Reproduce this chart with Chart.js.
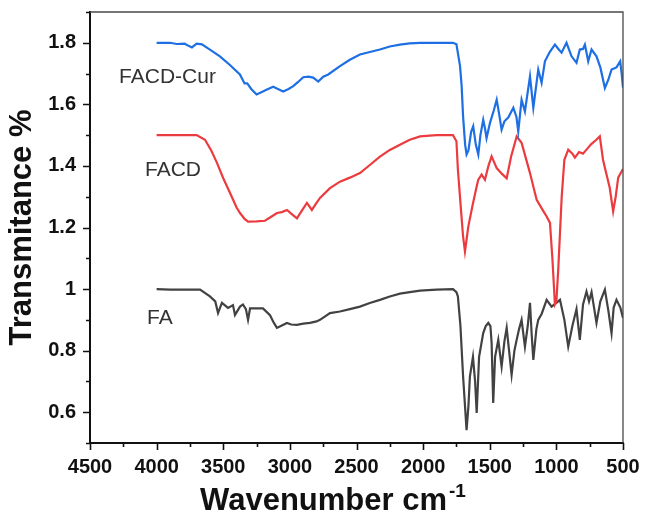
<!DOCTYPE html>
<html>
<head>
<meta charset="utf-8">
<script src="https://cdn.jsdelivr.net/npm/chart.js@4.4.1/dist/chart.umd.min.js"></script>
<style>
  html, body { margin: 0; padding: 0; background: #fff; }
  canvas { display: block; }
</style>
</head>
<body>
<canvas id="ftir" width="646" height="517"></canvas>
<script>
'use strict';

// FACD-Cur (blue)
var curWn = [4000, 3900, 3850, 3790, 3760, 3735, 3700, 3660, 3600, 3525, 3450, 3375, 3340, 3320, 3290, 3250, 3210, 3172, 3125, 3090, 3050, 3010, 2975, 2940, 2900, 2860, 2825, 2787, 2750, 2712, 2624, 2550, 2474, 2400, 2324, 2250, 2174, 2100, 2023, 1900, 1776, 1750, 1723, 1711, 1700, 1685, 1674, 1660, 1640, 1624, 1605, 1586, 1570, 1549, 1535, 1524, 1498, 1470, 1448, 1430, 1411, 1390, 1361, 1323, 1300, 1286, 1261, 1236, 1198, 1173, 1136, 1111, 1086, 1050, 1011, 985, 961, 924, 886, 849, 824, 800, 786, 761, 736, 699, 670, 636, 610, 586, 549, 521, 510, 500];
var curT = [1.800, 1.800, 1.796, 1.797, 1.790, 1.785, 1.797, 1.795, 1.778, 1.756, 1.728, 1.697, 1.668, 1.668, 1.650, 1.632, 1.640, 1.648, 1.657, 1.650, 1.642, 1.650, 1.659, 1.672, 1.688, 1.690, 1.687, 1.674, 1.690, 1.697, 1.724, 1.745, 1.762, 1.770, 1.778, 1.788, 1.794, 1.798, 1.800, 1.800, 1.800, 1.795, 1.724, 1.660, 1.560, 1.470, 1.437, 1.450, 1.510, 1.529, 1.470, 1.437, 1.500, 1.550, 1.520, 1.490, 1.540, 1.580, 1.615, 1.570, 1.518, 1.545, 1.557, 1.589, 1.560, 1.512, 1.615, 1.577, 1.691, 1.589, 1.713, 1.670, 1.740, 1.770, 1.794, 1.780, 1.768, 1.800, 1.756, 1.735, 1.778, 1.780, 1.794, 1.740, 1.778, 1.756, 1.720, 1.653, 1.680, 1.713, 1.720, 1.740, 1.700, 1.654];

// FACD (red)
var facdWn = [4000, 3800, 3700, 3637, 3590, 3547, 3500, 3449, 3400, 3374, 3340, 3314, 3250, 3187, 3140, 3097, 3060, 3022, 2990, 2947, 2910, 2872, 2835, 2800, 2774, 2699, 2624, 2550, 2474, 2400, 2324, 2250, 2174, 2100, 2023, 1900, 1776, 1750, 1739, 1720, 1700, 1686, 1661, 1630, 1600, 1586, 1561, 1536, 1510, 1486, 1448, 1410, 1373, 1340, 1298, 1261, 1200, 1148, 1100, 1073, 1048, 1030, 1011, 1000, 986, 960, 940, 911, 880, 861, 830, 800, 774, 740, 700, 674, 650, 636, 600, 574, 555, 536, 511, 500];
var facdT = [1.500, 1.500, 1.500, 1.485, 1.450, 1.410, 1.360, 1.312, 1.265, 1.247, 1.228, 1.219, 1.220, 1.222, 1.235, 1.247, 1.250, 1.257, 1.245, 1.230, 1.255, 1.280, 1.257, 1.280, 1.296, 1.328, 1.349, 1.362, 1.377, 1.403, 1.430, 1.452, 1.469, 1.485, 1.496, 1.500, 1.500, 1.480, 1.388, 1.280, 1.170, 1.122, 1.203, 1.270, 1.330, 1.355, 1.372, 1.355, 1.400, 1.431, 1.393, 1.375, 1.360, 1.430, 1.496, 1.475, 1.380, 1.290, 1.255, 1.236, 1.215, 1.100, 0.950, 0.960, 1.063, 1.300, 1.420, 1.453, 1.440, 1.427, 1.445, 1.440, 1.453, 1.470, 1.485, 1.496, 1.420, 1.394, 1.330, 1.252, 1.300, 1.362, 1.382, 1.390];

// FA (grey)
var faWn = [4000, 3900, 3800, 3674, 3600, 3560, 3539, 3510, 3464, 3427, 3412, 3374, 3352, 3330, 3314, 3299, 3250, 3202, 3149, 3120, 3097, 3060, 3022, 2990, 2947, 2900, 2849, 2800, 2774, 2699, 2624, 2550, 2474, 2400, 2324, 2250, 2174, 2100, 2023, 1900, 1776, 1750, 1739, 1720, 1700, 1674, 1660, 1649, 1626, 1610, 1598, 1580, 1549, 1530, 1511, 1495, 1486, 1474, 1460, 1436, 1411, 1390, 1373, 1355, 1336, 1315, 1298, 1280, 1261, 1236, 1215, 1198, 1185, 1173, 1150, 1136, 1110, 1073, 1036, 1000, 973, 940, 911, 880, 849, 824, 800, 774, 755, 736, 699, 670, 636, 610, 586, 570, 549, 520, 500];
var faT = [1.000, 0.998, 0.998, 0.998, 0.976, 0.960, 0.922, 0.955, 0.939, 0.948, 0.916, 0.943, 0.950, 0.935, 0.900, 0.937, 0.937, 0.937, 0.915, 0.890, 0.874, 0.882, 0.890, 0.885, 0.884, 0.888, 0.890, 0.895, 0.900, 0.922, 0.927, 0.935, 0.943, 0.955, 0.965, 0.976, 0.985, 0.990, 0.995, 0.998, 1.000, 0.990, 0.976, 0.880, 0.716, 0.542, 0.620, 0.716, 0.780, 0.700, 0.598, 0.780, 0.857, 0.880, 0.890, 0.880, 0.825, 0.630, 0.780, 0.835, 0.748, 0.830, 0.874, 0.800, 0.721, 0.800, 0.835, 0.870, 0.900, 0.813, 0.880, 0.955, 0.850, 0.770, 0.870, 0.900, 0.920, 0.965, 0.943, 0.955, 0.965, 0.900, 0.813, 0.880, 0.935, 0.835, 0.950, 0.992, 0.960, 0.990, 0.890, 0.960, 0.998, 0.930, 0.857, 0.940, 0.965, 0.940, 0.906];

// curve name labels, placed in data units
var nameTexts = ['FACD-Cur', 'FACD', 'FA'];
var nameWn = [4282, 4087, 4072];
var nameT = [1.687, 1.385, 0.906];

// x axis title, drawn by hand so the exponent can be raised
var xTitle = 'Wavenumber cm';
var xTitleSup = '-1';

var fontFamily = "'Liberation Sans', Arial, sans-serif";

function toPoints(xs, ys) {
  return xs.map(function (x, i) { return { x: x, y: ys[i] }; });
}

var frameAndNames = {
  id: 'frameAndNames',
  afterDraw: function (chart) {
    var ctx = chart.ctx;
    var a = chart.chartArea;
    var xs = chart.scales.x;
    var ys = chart.scales.y;
    ctx.save();

    // thin top/right frame
    ctx.strokeStyle = '#4a4a4a';
    ctx.lineWidth = 1.3;
    ctx.beginPath();
    ctx.moveTo(a.left, a.top);
    ctx.lineTo(a.right, a.top);
    ctx.lineTo(a.right, a.bottom);
    ctx.stroke();

    // outward ticks, short ones for minor steps
    ctx.strokeStyle = '#111';
    ctx.lineWidth = 1.6;
    ctx.beginPath();
    xs.ticks.forEach(function (t) {
      var px = Math.round(xs.getPixelForValue(t.value)) + 0.5;
      var len = Math.round(t.value) % 500 === 0 ? 7 : 4;
      ctx.moveTo(px, a.bottom);
      ctx.lineTo(px, a.bottom + len);
    });
    ys.ticks.forEach(function (t) {
      var py = Math.round(ys.getPixelForValue(t.value)) + 0.5;
      var len = Math.round(t.value * 10) % 2 === 0 ? 7 : 4;
      ctx.moveTo(a.left, py);
      ctx.lineTo(a.left - len, py);
    });
    ctx.stroke();

    // curve names
    ctx.fillStyle = '#333';
    ctx.font = '21px ' + fontFamily;
    ctx.textAlign = 'left';
    ctx.textBaseline = 'middle';
    for (var i = 0; i < nameTexts.length; i++) {
      ctx.fillText(nameTexts[i], xs.getPixelForValue(nameWn[i]), ys.getPixelForValue(nameT[i]));
    }

    // x axis title with superscript
    ctx.fillStyle = '#111';
    ctx.textBaseline = 'alphabetic';
    ctx.font = 'bold 31px ' + fontFamily;
    var mainW = ctx.measureText(xTitle).width;
    ctx.font = 'bold 19px ' + fontFamily;
    var supW = ctx.measureText(xTitleSup).width;
    var startX = 333 - (mainW + supW + 2) / 2;
    ctx.font = 'bold 31px ' + fontFamily;
    ctx.fillText(xTitle, startX, 510);
    ctx.font = 'bold 19px ' + fontFamily;
    ctx.fillText(xTitleSup, startX + mainW + 2, 497);
    ctx.restore();
  }
};

new Chart(document.getElementById('ftir'), {
  type: 'line',
  data: {
    datasets: [{
      label: 'FACD-Cur',
      data: toPoints(curWn, curT),
      borderColor: '#1d6fe3',
      borderWidth: 2.2
    }, {
      label: 'FACD',
      data: toPoints(facdWn, facdT),
      borderColor: '#ec3b3f',
      borderWidth: 2.2
    }, {
      label: 'FA',
      data: toPoints(faWn, faT),
      borderColor: '#424242',
      borderWidth: 2.2
    }]
  },
  options: {
    responsive: false,
    animation: false,
    elements: { point: { radius: 0 }, line: { tension: 0 } },
    layout: { padding: { top: 12, right: 23, left: 0, bottom: 0 } },
    plugins: {
      legend: { display: false },
      tooltip: { enabled: false }
    },
    scales: {
      x: {
        type: 'linear',
        reverse: true,
        min: 500,
        max: 4500,
        afterFit: function (scale) {
          scale.height = 74;
          scale.paddingLeft = 0;
          scale.paddingRight = 0;
        },
        border: { color: '#111', width: 2 },
        grid: { display: false, drawTicks: false },
        ticks: {
          stepSize: 250,
          maxTicksLimit: 100,
          autoSkip: false,
          maxRotation: 0,
          padding: 12,
          color: '#111',
          font: { family: fontFamily, size: 20, weight: 'bold' },
          callback: function (v) { return Math.round(v) % 500 === 0 ? String(Math.round(v)) : ''; }
        },
        title: { display: false }
      },
      y: {
        min: 0.5,
        max: 1.9,
        afterFit: function (scale) {
          scale.width = 90;
          scale.paddingTop = 0;
          scale.paddingBottom = 0;
        },
        border: { color: '#111', width: 2 },
        grid: { display: false, drawTicks: false },
        ticks: {
          stepSize: 0.1,
          maxTicksLimit: 100,
          autoSkip: false,
          padding: 14,
          color: '#111',
          font: { family: fontFamily, size: 20, weight: 'bold' },
          callback: function (v) {
            return Math.round(v * 10) % 2 === 0 ? String(Number(v.toFixed(1))) : '';
          }
        },
        title: {
          display: true,
          text: 'Transmitance %',
          color: '#111',
          padding: { top: 4, bottom: 0 },
          font: { family: fontFamily, size: 31, weight: 'bold' }
        }
      }
    }
  },
  plugins: [frameAndNames]
});
</script>
</body>
</html>
